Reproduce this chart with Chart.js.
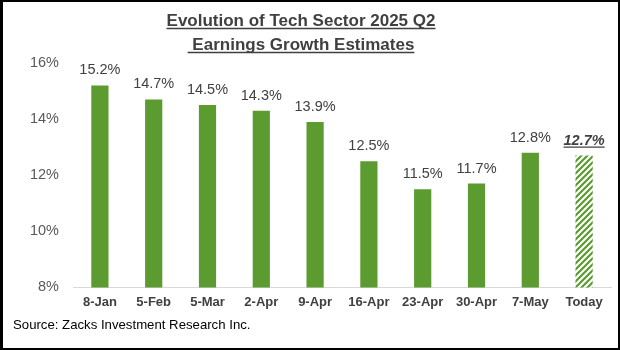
<!DOCTYPE html>
<html>
<head>
<meta charset="utf-8">
<script src="https://cdn.jsdelivr.net/npm/chart.js@4/dist/chart.umd.min.js"></script>
<style>
  html, body { margin: 0; padding: 0; background: #fff; }
  #wrap {
    width: 620px; height: 350px; box-sizing: border-box;
    border: 2px solid #000; border-left-width: 3px; position: relative;
  }
  canvas { display: block; }
</style>
</head>
<body>
<div id="wrap"><canvas id="chart" width="615" height="346"></canvas></div>
<script>
// --- Data ---
const categories = ['8-Jan', '5-Feb', '5-Mar', '2-Apr', '9-Apr', '16-Apr', '23-Apr', '30-Apr', '7-May', 'Today'];
const growthEstimates = [15.2, 14.7, 14.5, 14.3, 13.9, 12.5, 11.5, 11.7, 12.8, 12.7];
const yTicks = [8, 10, 12, 14, 16];
const titleLines = ['Evolution of Tech Sector 2025 Q2', ' Earnings Growth Estimates'];
const sourceText = 'Source: Zacks Investment Research Inc.';

const green = '#5b9b30';
const textGray = '#404040';
const fontFamily = '"Liberation Sans", Arial, sans-serif';

// striped fill for the "Today" bar
function makeHatch() {
    const c = document.createElement('canvas');
    c.width = 6; c.height = 6;
    const g = c.getContext('2d');
    g.fillStyle = '#fff';
    g.fillRect(0, 0, 6, 6);
    g.strokeStyle = green;
    g.lineWidth = 2.2;
    g.beginPath();
    g.moveTo(-1, 7); g.lineTo(7, -1);
    g.moveTo(-4, 4); g.lineTo(4, -4);
    g.moveTo(2, 10); g.lineTo(10, 2);
    g.stroke();
    return g.createPattern(c, 'repeat');
}

const ctx = document.getElementById('chart').getContext('2d');
const hatch = makeHatch();
const barColors = growthEstimates.map((v, i) => i === growthEstimates.length - 1 ? hatch : green);

const decorations = {
    id: 'decorations',
    afterDraw(chart) {
        const c = chart.ctx;
        c.save();
        // title, underlined
        c.fillStyle = textGray;
        c.strokeStyle = textGray;
        c.font = 'bold 17px ' + fontFamily;
        c.textAlign = 'center';
        c.textBaseline = 'alphabetic';
        const cx = 298;
        titleLines.forEach((line, i) => {
            const y = 24 + i * 24;
            c.fillText(line, cx, y);
            const w = c.measureText(line).width;
            c.lineWidth = 1.3;
            c.beginPath();
            c.moveTo(cx - w / 2, y + 2.5);
            c.lineTo(cx + w / 2, y + 2.5);
            c.stroke();
        });
        // value labels
        const meta = chart.getDatasetMeta(0);
        meta.data.forEach((bar, i) => {
            const last = i === growthEstimates.length - 1;
            const label = growthEstimates[i].toFixed(1) + '%';
            c.font = (last ? 'italic bold ' : '') + '14.5px ' + fontFamily;
            c.textAlign = 'center';
            c.fillStyle = textGray;
            const y = bar.y - 11;
            c.fillText(label, bar.x, y);
            if (last) {
                const w = c.measureText(label).width;
                c.lineWidth = 1.2;
                c.beginPath();
                c.moveTo(bar.x - w / 2, y + 2.5);
                c.lineTo(bar.x + w / 2, y + 2.5);
                c.stroke();
            }
        });
        // source
        c.font = '13.2px ' + fontFamily;
        c.textAlign = 'left';
        c.fillStyle = '#000';
        c.fillText(sourceText, 10, 327);
        c.restore();
    }
};

new Chart(ctx, {
    type: 'bar',
    data: {
        labels: categories,
        datasets: [{
            data: growthEstimates,
            backgroundColor: barColors,
            borderWidth: 0,
            categoryPercentage: 1,
            barPercentage: 0.32
        }]
    },
    options: {
        responsive: false,
        animation: false,
        layout: { padding: { top: 61, right: 7, bottom: 39, left: 10 } },
        plugins: {
            legend: { display: false },
            tooltip: { enabled: false }
        },
        scales: {
            x: {
                grid: { display: false },
                border: { color: '#d9d9d9', width: 1 },
                ticks: {
                    color: textGray,
                    font: { family: fontFamily, size: 13, weight: 'bold' },
                    padding: -1,
                    maxRotation: 0
                }
            },
            y: {
                min: yTicks[0],
                max: yTicks[yTicks.length - 1],
                afterBuildTicks(scale) {
                    scale.ticks = yTicks.map(v => ({ value: v }));
                },
                afterFit(scale) { scale.width = 60; },
                grid: { display: false },
                border: { display: false },
                ticks: {
                    color: '#595959',
                    font: { family: fontFamily, size: 14.5 },
                    padding: 6,
                    callback: v => v + '%'
                }
            }
        }
    },
    plugins: [decorations]
});
</script>
</body>
</html>
